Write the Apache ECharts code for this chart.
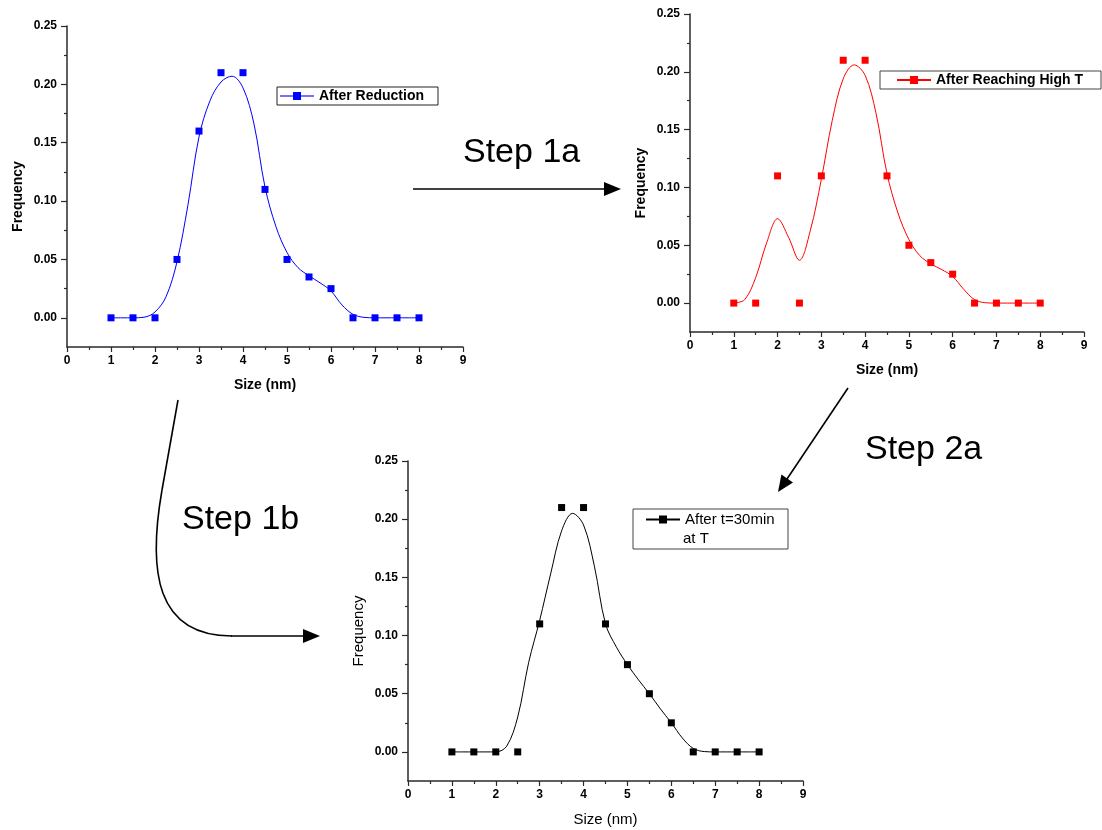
<!DOCTYPE html>
<html>
<head>
<meta charset="utf-8">
<script src="https://cdn.jsdelivr.net/npm/echarts@6/dist/echarts.min.js"></script>
<style>
html,body{margin:0;padding:0;background:#fff;}
#chart{width:1102px;height:830px;}
</style>
</head>
<body>
<div id="chart"></div>
<script>
// ---- data ----
const sizes = [1, 1.5, 2, 2.5, 3, 3.5, 4, 4.5, 5, 5.5, 6, 6.5, 7, 7.5, 8];
const reductionFreq = [0, 0, 0, 0.05, 0.16, 0.21, 0.21, 0.11, 0.05, 0.035, 0.025, 0, 0, 0, 0];
const highTFreq = [0, 0, 0.11, 0, 0.11, 0.21, 0.21, 0.11, 0.05, 0.035, 0.025, 0, 0, 0, 0];
const t30Freq = [0, 0, 0, 0, 0.11, 0.21, 0.21, 0.11, 0.075, 0.05, 0.025, 0, 0, 0, 0];

// fitted curves
const fitSizes = [1, 1.25, 1.5, 1.75, 2, 2.25, 2.5, 2.75, 3, 3.25, 3.5, 3.75, 4, 4.25, 4.5, 4.75, 5, 5.25, 5.5, 5.75, 6, 6.25, 6.5, 6.75, 7, 7.25, 7.5, 7.75, 8];
const reductionFit = [0, 0, 0, 0.0005, 0.005, 0.018, 0.048, 0.097, 0.155, 0.186, 0.202, 0.207, 0.197, 0.166, 0.112, 0.078, 0.056, 0.043, 0.036, 0.030, 0.023, 0.011, 0.003, 0.0004, 0, 0, 0, 0, 0];
const highTFit = [0, 0.003, 0.022, 0.052, 0.073, 0.057, 0.037, 0.063, 0.107, 0.158, 0.194, 0.206, 0.197, 0.164, 0.112, 0.078, 0.055, 0.041, 0.034, 0.029, 0.023, 0.012, 0.003, 0.0003, 0, 0, 0, 0, 0];
const t30Fit = [0, 0, 0, 0, 0, 0.005, 0.030, 0.077, 0.113, 0.153, 0.190, 0.205, 0.195, 0.159, 0.110, 0.090, 0.075, 0.062, 0.050, 0.037, 0.025, 0.012, 0.003, 0.0003, 0, 0, 0, 0, 0];

const yMajorTicks = [0, 0.05, 0.10, 0.15, 0.20, 0.25];
const yMinorTicks = [0.025, 0.075, 0.125, 0.175, 0.225];
const seriesNames = ['After Reduction', 'After Reaching High T', 'After t=30min'];
const xTitle = 'Size (nm)';
const yTitle = 'Frequency';
const stepLabels = ['Step 1a', 'Step 2a', 'Step 1b'];

// ---- layout ----
const FONT = '"Liberation Sans", Arial, sans-serif';
const grids = [
  {left: 67, top: 26, width: 396, height: 321},
  {left: 690, top: 14, width: 394, height: 318},
  {left: 408, top: 461, width: 395, height: 320}
];
const colors = ['#0000ff', '#ff0000', '#000000'];
const boldTitles = [true, true, false];
const pointSets = [reductionFreq, highTFreq, t30Freq];
const fitSets = [reductionFit, highTFit, t30Fit];

const axisColor = '#2a2a2a';
const xAxes = [], yAxes = [], series = [];
grids.forEach((g, i) => {
  const titleStyle = {fontFamily: FONT, fontSize: boldTitles[i] ? 14 : 15, fontWeight: boldTitles[i] ? 'bold' : 'normal', color: '#000'};
  xAxes.push({
    gridIndex: i, type: 'value', min: 0, max: 9, interval: 1,
    axisLine: {onZero: false, lineStyle: {color: axisColor, width: 1.5}},
    axisTick: {length: 5, lineStyle: {color: axisColor, width: 1.2}},
    minorTick: {show: true, splitNumber: 2, length: 3, lineStyle: {color: axisColor, width: 1.2}},
    splitLine: {show: false},
    axisLabel: {fontFamily: FONT, fontSize: 12, fontWeight: 'bold', color: '#000', margin: 8},
    name: xTitle, nameLocation: 'middle', nameGap: 31, nameTextStyle: titleStyle
  });
  yAxes.push({
    gridIndex: i, type: 'value', min: -0.025, max: 0.25, interval: 0.025,
    axisLine: {onZero: false, lineStyle: {color: axisColor, width: 1.5}},
    axisTick: {customValues: yMajorTicks, length: 6, lineStyle: {color: axisColor, width: 1.2}},
    splitLine: {show: false},
    axisLabel: {
      customValues: yMajorTicks,
      fontFamily: FONT, fontSize: 12, fontWeight: 'bold', color: '#000', margin: 10,
      formatter: v => (v >= -1e-9 && Math.abs(Math.round(v * 20) - v * 20) < 1e-6) ? v.toFixed(2) : ''
    },
    name: yTitle, nameLocation: 'middle', nameGap: 42,
    nameTextStyle: Object.assign({padding: [0, 20, 0, 0]}, titleStyle)
  });
  yAxes.push({
    gridIndex: i, type: 'value', position: 'left', min: -0.025, max: 0.25, interval: 0.025,
    axisLine: {show: false, onZero: false},
    axisTick: {customValues: yMinorTicks, length: 3, lineStyle: {color: axisColor, width: 1.2}},
    axisLabel: {show: false},
    splitLine: {show: false}
  });
  series.push({
    name: seriesNames[i], type: 'line', xAxisIndex: i, yAxisIndex: 2 * i,
    data: fitSizes.map((x, k) => [x, fitSets[i][k]]),
    smooth: 0.35, symbol: 'rect', symbolSize: 7, showSymbol: false,
    lineStyle: {color: colors[i], width: 1}, itemStyle: {color: colors[i], opacity: 1},
    silent: true, animation: false, z: 2
  });
  series.push({
    name: seriesNames[i] + ' points', type: 'scatter', xAxisIndex: i, yAxisIndex: 2 * i,
    data: sizes.map((x, k) => [x, pointSets[i][k]]),
    symbol: 'rect', symbolSize: 7, itemStyle: {color: colors[i], opacity: 1},
    silent: true, animation: false, z: 3
  });
});

const legendBase = {
  orient: 'horizontal', itemWidth: 34, itemHeight: 10, itemGap: 0,
  selectedMode: false, borderRadius: 0, backgroundColor: '#fff'
};
const legends = [
  Object.assign({}, legendBase, {
    data: [seriesNames[0]], left: 277, top: 87, borderColor: '#222', borderWidth: 1, padding: [2, 14, 2, 2],
    lineStyle: {color: '#7373ff'},
    textStyle: {fontFamily: FONT, fontSize: 14, fontWeight: 'bold', color: '#000'}
  }),
  Object.assign({}, legendBase, {
    data: [seriesNames[1]], left: 880, top: 71, borderColor: '#444', borderWidth: 1, padding: [2, 18, 2, 16],
    textStyle: {fontFamily: FONT, fontSize: 14, fontWeight: 'bold', color: '#000'}
  }),
  Object.assign({}, legendBase, {
    data: [seriesNames[2]], left: 645, top: 512, borderWidth: 0, padding: 0, backgroundColor: 'transparent',
    textStyle: {fontFamily: FONT, fontSize: 15, color: '#000'}
  })
];

const stepFont = {fontFamily: FONT, fontSize: 34, fill: '#000', textVerticalAlign: 'middle', textAlign: 'left'};
const arrowStroke = {stroke: '#000', lineWidth: 1.6, fill: null};
const graphic = [
  {type: 'rect', z: 1, shape: {x: 633, y: 509, width: 155, height: 40}, style: {fill: '#fff', stroke: '#444', lineWidth: 1}},
  {type: 'text', z: 10, x: 683, y: 539, style: {text: 'at T', fontFamily: FONT, fontSize: 15, fill: '#000', textVerticalAlign: 'middle'}},
  {type: 'text', x: 463, y: 153, style: Object.assign({text: stepLabels[0]}, stepFont)},
  {type: 'text', x: 865, y: 450, style: Object.assign({text: stepLabels[1]}, stepFont)},
  {type: 'text', x: 182, y: 520, style: Object.assign({text: stepLabels[2]}, stepFont)},
  {type: 'line', shape: {x1: 413, y1: 189, x2: 606, y2: 189}, style: arrowStroke},
  {type: 'polygon', shape: {points: [[621, 189], [604, 182], [604, 196]]}, style: {fill: '#000'}},
  {type: 'line', shape: {x1: 848, y1: 388, x2: 787, y2: 479}, style: arrowStroke},
  {type: 'polygon', shape: {points: [[778, 492], [793, 482.6], [781.4, 474.6]]}, style: {fill: '#000'}},
  {type: 'line', shape: {x1: 178, y1: 400, x2: 162, y2: 490}, style: arrowStroke},
  {type: 'bezierCurve', shape: {x1: 162, y1: 490, cpx1: 148, cpy1: 570, cpx2: 155, cpy2: 636, x2: 232, y2: 636}, style: arrowStroke},
  {type: 'line', shape: {x1: 231, y1: 636, x2: 305, y2: 636}, style: arrowStroke},
  {type: 'polygon', shape: {points: [[320, 636], [303, 629], [303, 643]]}, style: {fill: '#000'}}
];

const chart = echarts.init(document.getElementById('chart'), null, {renderer: 'canvas'});
chart.setOption({
  backgroundColor: '#fff',
  animation: false,
  grid: grids,
  xAxis: xAxes,
  yAxis: yAxes,
  legend: legends,
  series: series,
  graphic: graphic
});
</script>
</body>
</html>
